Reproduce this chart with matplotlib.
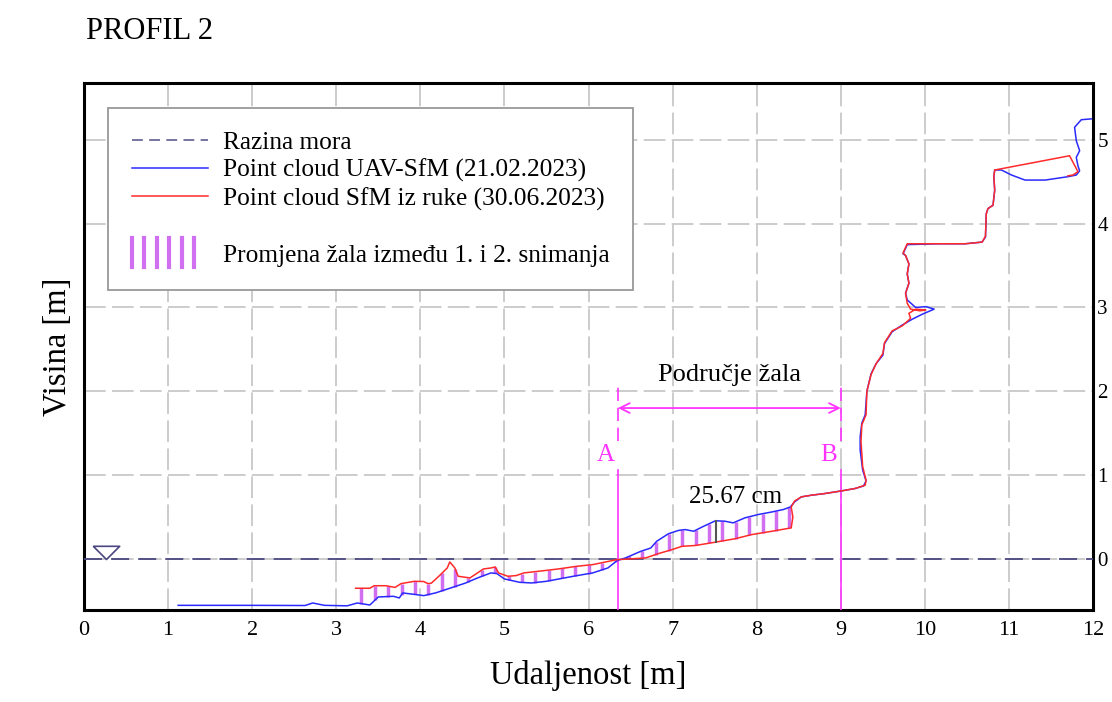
import matplotlib
matplotlib.use('Agg')
import matplotlib.pyplot as plt
import numpy as np
from matplotlib.lines import Line2D
from matplotlib.legend_handler import HandlerBase

plt.rcParams['font.family'] = ['Liberation Serif', 'DejaVu Serif']

# UAV-SfM profil (21.02.2023)
uav_x = [1.12, 1.95, 2.63, 2.72, 2.86, 3.13, 3.25, 3.40, 3.50, 3.68, 3.75, 3.79, 3.95, 4.04,
         4.18, 4.36, 4.54, 4.68, 4.84, 4.91, 5.00, 5.18, 5.32, 5.50, 5.82, 6.05, 6.23, 6.34,
         6.44, 6.62, 6.74, 6.81, 6.95, 7.07, 7.15, 7.25, 7.37, 7.51, 7.62, 7.72, 7.86, 8.02,
         8.18, 8.32, 8.40, 8.45, 8.53, 8.65, 8.81, 9.00, 9.17, 9.27, 9.30, 9.26, 9.23, 9.23,
         9.25, 9.29, 9.31, 9.36, 9.42, 9.50, 9.52, 9.61, 9.73, 9.85, 9.97, 10.11, 10.01, 9.89,
         9.79, 9.77, 9.81, 9.79, 9.81, 9.77, 9.74, 9.79, 10.17, 10.48, 10.68, 10.72, 10.73,
         10.75, 10.81, 10.83, 10.82, 10.83, 10.91, 11.03, 11.19, 11.43, 11.70, 11.80, 11.84,
         11.82, 11.80, 11.84, 11.80, 11.78, 11.86, 11.98]
uav_y = [-0.554, -0.554, -0.556, -0.526, -0.554, -0.56, -0.526, -0.55, -0.454, -0.446, -0.466,
         -0.406, -0.426, -0.438, -0.406, -0.347, -0.287, -0.227, -0.167, -0.175, -0.239, -0.279,
         -0.287, -0.267, -0.207, -0.167, -0.108, -0.02, 0.012, 0.09, 0.13, 0.21, 0.30, 0.34,
         0.35, 0.33, 0.39, 0.455, 0.45, 0.43, 0.49, 0.53, 0.56, 0.59, 0.62, 0.68, 0.74, 0.76,
         0.78, 0.81, 0.84, 0.87, 0.93, 1.06, 1.30, 1.46, 1.62, 1.72, 2.00, 2.21, 2.33, 2.43,
         2.57, 2.71, 2.79, 2.86, 2.92, 2.98, 3.01, 3.00, 3.09, 3.17, 3.29, 3.40, 3.52, 3.62,
         3.64, 3.75, 3.76, 3.76, 3.78, 3.84, 4.12, 4.18, 4.22, 4.40, 4.56, 4.64, 4.64, 4.58,
         4.52, 4.52, 4.56, 4.58, 4.63, 4.69, 4.79, 4.87, 4.99, 5.15, 5.24, 5.25]

# SfM iz ruke profil (30.06.2023)
ruka_x = [3.23, 3.40, 3.45, 3.59, 3.70, 3.77, 3.93, 4.04, 4.09, 4.13, 4.22, 4.32, 4.35, 4.41,
          4.45, 4.59, 4.68, 4.75, 4.84, 4.89, 4.93, 5.04, 5.14, 5.23, 5.41, 5.64, 5.86, 6.05,
          6.33, 6.68, 6.83, 6.99, 7.11, 7.27, 7.51, 7.74, 7.94, 8.18, 8.41, 8.43, 8.41, 8.45,
          8.53, 8.65, 8.81, 9.00, 9.17, 9.29, 9.30, 9.26, 9.24, 9.25, 9.30, 9.31, 9.36, 9.42,
          9.50, 9.52, 9.61, 9.73, 9.83, 9.81, 9.89, 10.01, 9.94, 9.83, 9.79, 9.77, 9.81, 9.79,
          9.81, 9.77, 9.74, 9.79, 10.17, 10.48, 10.68, 10.72, 10.73, 10.75, 10.81, 10.83, 10.82,
          10.83, 11.72, 11.82, 11.76, 11.70]
ruka_y = [-0.35, -0.35, -0.32, -0.32, -0.34, -0.295, -0.267, -0.27, -0.295, -0.29, -0.207,
          -0.108, -0.036, -0.108, -0.207, -0.227, -0.167, -0.12, -0.108, -0.096, -0.167, -0.207,
          -0.199, -0.167, -0.147, -0.12, -0.088, -0.068, -0.01, 0.012, 0.063, 0.11, 0.15, 0.16,
          0.20, 0.24, 0.29, 0.33, 0.37, 0.50, 0.62, 0.69, 0.74, 0.76, 0.78, 0.81, 0.84, 0.88,
          0.94, 1.10, 1.40, 1.60, 1.72, 2.00, 2.20, 2.33, 2.45, 2.58, 2.72, 2.78, 2.87, 2.93,
          2.98, 2.97, 2.96, 2.98, 3.05, 3.17, 3.29, 3.40, 3.52, 3.62, 3.65, 3.76, 3.76, 3.76,
          3.78, 3.85, 4.12, 4.18, 4.22, 4.40, 4.56, 4.64, 4.81, 4.62, 4.58, 4.57]

razina_mora = 0.0
tocka_A = 6.35
tocka_B = 9.0
mjerenje_x = 7.51
mjerenje_txt = '25.67 cm'

uav_x = np.array(uav_x)
uav_y = np.array(uav_y)
ruka_x = np.array(ruka_x)
ruka_y = np.array(ruka_y)

ljubicasta = '#d070f0'
magenta = '#ff33ff'
more = '#4a4780'


class HatchHandler(HandlerBase):
    def create_artists(self, legend, orig_handle, xdescent, ydescent,
                       width, height, fontsize, trans):
        xs = np.linspace(0.0, 0.82 * width, 6) - xdescent
        y0 = -ydescent - 0.3 * height
        y1 = -ydescent + 1.3 * height
        return [Line2D([x, x], [y0, y1], color=ljubicasta, lw=3, transform=trans)
                for x in xs]


fig = plt.figure(figsize=(11.12, 7.02), dpi=100)
ax = fig.add_axes([0.0755, 0.131, 0.9075, 0.751])

# promjena zala - okomite crte izmedu dva profila
sx = np.arange(3.30, 8.42, 0.159)
mb = uav_x <= 8.40
mr = ruka_x <= 8.41
yb = np.interp(sx, uav_x[mb], uav_y[mb])
yr = np.interp(sx, ruka_x[mr], ruka_y[mr])
ax.vlines(sx, yb, yr, color=ljubicasta, lw=2.5, zorder=2)

ax.axhline(razina_mora, color=more, lw=1.3, dashes=(10, 5), zorder=3)
ax.plot([0.26], [razina_mora], marker=[(-1, 1), (1, 1), (0, 0), (-1, 1)],
        markersize=19, markerfacecolor='none', markeredgecolor=more,
        markeredgewidth=1.2, zorder=4)

ax.plot(uav_x, uav_y, color='#2a2aff', lw=1.1, zorder=4)
ax.plot(ruka_x, ruka_y, color='#ff2a2a', lw=1.1, zorder=5)

# izmjereni razmak
bi = np.interp(mjerenje_x, uav_x[mb], uav_y[mb])
ri = np.interp(mjerenje_x, ruka_x[mr], ruka_y[mr])
ax.plot([mjerenje_x, mjerenje_x], [ri, bi], color='#555555', lw=1.5, zorder=6)
ax.text(7.75, 0.74, mjerenje_txt, fontsize=18, ha='center', va='center')

# tocke A i B
for xx, lab in [(tocka_A, 'A'), (tocka_B, 'B')]:
    ax.plot([xx, xx], [-0.61, 1.06], color=magenta, lw=1.2, zorder=3)
    ax.plot([xx, xx], [1.41, 2.09], color=magenta, lw=1.2, dashes=(8, 4), zorder=3)
    ax.text(xx - 0.15, 1.24, lab, color=magenta, fontsize=18, ha='center', va='center')

ax.annotate('', xy=(tocka_A, 1.80), xytext=(tocka_B, 1.80),
            arrowprops=dict(arrowstyle='<->,head_length=0.7,head_width=0.35',
                            color=magenta, lw=1.3, shrinkA=0, shrinkB=0))
ax.text((tocka_A + tocka_B) / 2, 2.2, 'Područje žala', fontsize=19,
        ha='center', va='center')

ax.set_xlim(0, 12)
ax.set_ylim(-0.61, 5.68)
ax.set_xticks(range(0, 13))
ax.set_yticks(range(0, 6))
ax.yaxis.tick_right()
ax.yaxis.set_label_position('left')
ax.tick_params(length=0, labelsize=16, pad=8)
ax.tick_params(axis='y', labelsize=15, pad=3)
ax.grid(True, color='#c8c8c8', lw=1.3, dashes=(12, 3.5))
ax.set_axisbelow(True)
for s in ax.spines.values():
    s.set_linewidth(2.2)
    s.set_color('black')

ax.set_xlabel('Udaljenost [m]', fontsize=23.5, labelpad=14)
ax.set_ylabel('Visina [m]', fontsize=23.5, labelpad=8)
fig.text(0.077, 0.955, 'PROFIL 2', fontsize=22, ha='left', va='center')

handles = [Line2D([], [], color='#6a6a9a', lw=1.3, dashes=(6, 3.5)),
           Line2D([], [], color='#2a2aff', lw=1.1),
           Line2D([], [], color='#ff2a2a', lw=1.1),
           Line2D([], [], color='none'),
           'hatch']
labels = ['Razina mora', 'Point cloud UAV-SfM (21.02.2023)',
          'Point cloud SfM iz ruke (30.06.2023)', ' ',
          'Promjena žala između 1. i 2. snimanja']
leg = ax.legend(handles, labels, handler_map={str: HatchHandler()},
                loc='upper left', bbox_to_anchor=(0.024, 0.953), fontsize=18.3,
                fancybox=False, framealpha=1, edgecolor='#999999',
                handlelength=3.0, handletextpad=0.6, labelspacing=0.2,
                borderpad=0.92, borderaxespad=0)
leg.get_frame().set_linewidth(1.3)

fig.savefig('out.png', dpi=100)
